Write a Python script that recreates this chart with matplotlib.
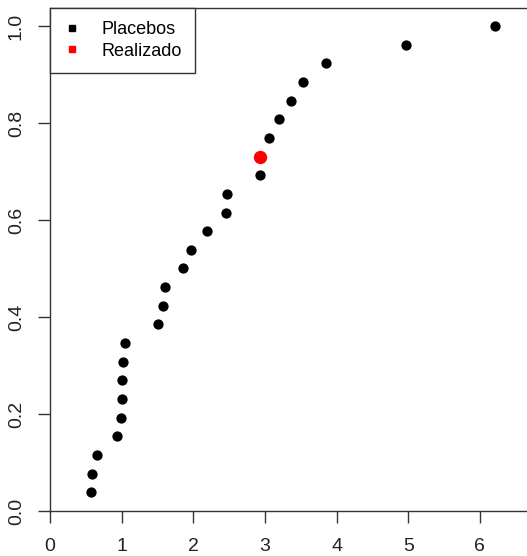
import matplotlib
matplotlib.use("Agg")
import matplotlib.pyplot as plt
from matplotlib.lines import Line2D

plt.rcParams['font.family'] = ['Liberation Sans', 'DejaVu Sans']

# placebo effects (sorted) and their empirical cdf positions
placebos = [0.57, 0.59, 0.66, 0.94, 0.99, 1.00, 1.00, 1.02, 1.05, 1.51,
            1.58, 1.61, 1.85, 1.97, 2.19, 2.45, 2.47, 2.93, 3.05, 3.19,
            3.37, 3.53, 3.85, 4.97, 6.21]
placebo_cdf = [1, 2, 3, 4, 5, 6, 7, 8, 9, 10, 11, 12, 13, 14, 15, 16, 17, 18,
               20, 21, 22, 23, 24, 25, 26]
realizado_x = 2.93
realizado_cdf = 19
n_total = 26

xticks = [0, 1, 2, 3, 4, 5, 6]
yticks = [0.0, 0.2, 0.4, 0.6, 0.8, 1.0]

fig = plt.figure(figsize=(5.27, 5.56), dpi=100)
ax = fig.add_axes([50 / 527, 45 / 556, 480 / 527, 503 / 556])

ax.plot(placebos, [c / n_total for c in placebo_cdf], 'o', color='black',
        markersize=7.4, markeredgewidth=0)
ax.plot([realizado_x], [realizado_cdf / n_total], 'o', color='red',
        markersize=9.6, markeredgewidth=0)

ax.set_xlim(0, 6.7)
ax.set_ylim(0, 1.037)
ax.set_xticks(xticks)
ax.set_xticklabels([str(t) for t in xticks])
ax.set_yticks(yticks)
ax.set_yticklabels(['%.1f' % t for t in yticks], rotation=90, va='center')
ax.tick_params(axis='both', direction='out', length=8.6, width=1,
               labelsize=14, color='#333333', labelcolor='#222222')
ax.tick_params(axis='x', pad=10.5)
ax.tick_params(axis='y', pad=9.5)
for s in ax.spines.values():
    s.set_color('#333333')
    s.set_linewidth(1)

handles = [Line2D([], [], marker='s', color='black', linestyle='none', markersize=4),
           Line2D([], [], marker='s', color='red', linestyle='none', markersize=4)]
leg = ax.legend(handles, ['Placebos', 'Realizado'], loc='upper left',
                bbox_to_anchor=(0, 1), borderaxespad=0, fancybox=False,
                edgecolor='#333333', framealpha=1, fontsize=13,
                handlelength=1.0, handletextpad=1.15, labelspacing=0.25,
                borderpad=0.72)
leg.get_frame().set_linewidth(1)

fig.savefig('out.png', dpi=100)
